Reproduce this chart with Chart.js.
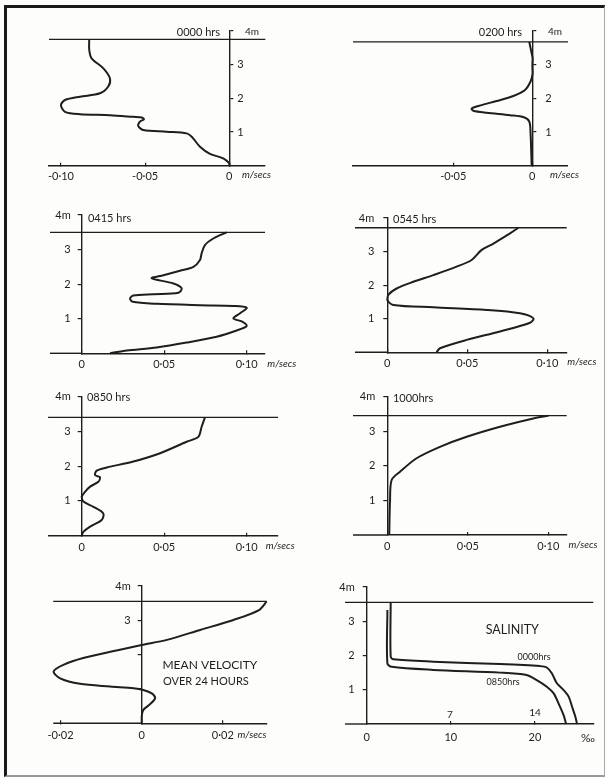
<!DOCTYPE html>
<html><head><meta charset="utf-8">
<script src="https://cdn.jsdelivr.net/npm/chart.js@4.4.1/dist/chart.umd.min.js"></script>
<style>
html,body{margin:0;padding:0;}
body{width:607px;height:778px;position:relative;overflow:hidden;background:#fdfdfb;}
#frame{position:absolute;left:4px;top:5px;width:597px;height:767px;border-left:3px solid #1a1a1a;border-top:3px solid #1a1a1a;border-right:1px solid #aaa;border-bottom:2px solid #999;}
canvas{position:absolute;}
</style></head><body>
<div id="frame"></div>
<canvas id="p0"></canvas><canvas id="p1"></canvas><canvas id="p2"></canvas><canvas id="p3"></canvas>
<canvas id="p4"></canvas><canvas id="p5"></canvas><canvas id="p6"></canvas><canvas id="p7"></canvas>
<script>
// ---------- DATA (height above bed in m, velocity in m/s, salinity in ‰) ----------
const h0000 = [3.75,3.44,3.19,2.89,2.59,2.35,2.15,2.05,1.95,1.80,1.60,1.53,1.50,1.45,1.43,1.38,1.31,1.18,1.06,1.01,0.96,0.86,0.56,0.35,0.22,0.07,0];
const v0000 = [-0.0832,-0.0832,-0.0818,-0.0748,-0.0709,-0.0719,-0.0768,-0.0887,-0.0976,-0.1,-0.0976,-0.0887,-0.0709,-0.057,-0.052,-0.0507,-0.0531,-0.0541,-0.0511,-0.0372,-0.0253,-0.0223,-0.0174,-0.0115,-0.0036,0,0];

const h0200 = [3.68,3.49,3.19,2.74,2.50,2.25,2.07,1.92,1.80,1.70,1.63,1.57,1.50,1.44,1.31,0.96,0];
const v0200 = [-0.0019,-0.0011,0.0002,0.0002,-0.0011,-0.0046,-0.012,-0.0226,-0.0321,-0.0384,-0.0373,-0.0289,-0.0141,-0.0053,-0.0019,-0.0011,-0.0004];

const h0415 = [3.50,3.32,3.13,2.89,2.70,2.50,2.39,2.26,2.17,2.02,1.88,1.75,1.71,1.67,1.59,1.49,1.43,1.39,1.37,1.32,1.16,1.01,0.92,0.79,0.66,0.48,0.31,0.17,0.08,0.02,0];
const v0415 = [0.0879,0.0798,0.0747,0.0727,0.0717,0.0677,0.0596,0.0495,0.0424,0.0556,0.0606,0.0586,0.0434,0.0313,0.0293,0.0309,0.0455,0.0717,0.0919,0.1,0.096,0.0919,0.097,0.1,0.0939,0.0818,0.0636,0.0455,0.0273,0.0192,0.0172];

const h0545 = [3.71,3.54,3.24,3.05,2.75,2.55,2.30,2.10,1.90,1.71,1.56,1.41,1.34,1.26,1.16,1.01,0.88,0.62,0.37,0.12,0];
const v0545 = [0.0819,0.0767,0.0663,0.059,0.0527,0.0433,0.0288,0.0163,0.0058,0.0006,0,0.0038,0.0288,0.0621,0.0829,0.0913,0.0892,0.0704,0.0496,0.0329,0.0308];

const h0850 = [3.40,3.13,2.84,2.70,2.37,2.13,1.96,1.87,1.74,1.68,1.55,1.41,1.26,1.12,0.98,0.83,0.64,0.45,0.26,0.11,0];
const v0850 = [0.0747,0.0727,0.0707,0.0636,0.0475,0.0313,0.0152,0.0091,0.0081,0.0111,0.0101,0.0051,0.002,0,0.001,0.0071,0.0131,0.0121,0.0051,0.001,0];

const h1000 = [3.45,3.37,3.13,2.84,2.55,2.22,1.83,1.59,1.01,0];
const v1000 = [0.1,0.0907,0.07,0.0493,0.0327,0.0182,0.0079,0.0027,0.0017,0.0012];

const hMean = [3.55,3.30,3.01,2.72,2.43,2.28,2.12,1.90,1.70,1.51,1.31,1.15,1.07,1.02,0.97,0.87,0.73,0.56,0.39,0.19,0];
const vMean = [0.0308,0.0289,0.0226,0.0144,0.0062,0,-0.0062,-0.0144,-0.0193,-0.0217,-0.0201,-0.0152,-0.0078,-0.002,0.0004,0.0025,0.0033,0.0021,0.0004,0,0];

const hSal0000 = [3.55,1.97,1.89,1.82,1.75,1.69,1.65,1.48,1.19,0.99,0.80,0.51,0.21,0];
const sSal0000 = [2.85,2.85,3.17,7.92,15.85,20.6,21.4,22.0,22.6,23.4,24.0,24.4,24.8,25.0];
const hSal0850 = [3.33,1.77,1.67,1.58,1.50,1.43,1.28,1.09,0.90,0.60,0.26,0];
const sSal0850 = [2.46,2.46,2.97,7.92,15.85,19.0,20.2,21.4,22.2,22.8,23.4,23.7];

// water-surface level drawn in each panel (m)
const surfaceLevels = [3.75,3.68,3.50,3.71,3.40,3.45,3.55,3.55];

// tick values and labels
const depthTicks = [1,2,3,4];
const depthLabels = ['1','2','3','4m'];
const depthLabelsTopRight = ['1','2','3',''];
const depthLabelsMean = ['','','3','4m'];
const velTicks0000 = [-0.10,-0.05,0];
const velLabels0000 = ['-0·10','-0·05','0'];
const velTicks0200 = [-0.05,0];
const velLabels0200 = ['-0·05','0'];
const velTicksPos = [0,0.05,0.10];
const velLabelsPos = ['0','0·05','0·10'];
const meanTicks = [-0.02,0,0.02];
const meanLabels = ['-0·02','0','0·02'];
const salTicks = [0,10,20];
const salLabels = ['0','10','20'];

// ---------- LAYOUT ----------
const INK = '#1e1e1e';
const FONT = 'Lato, "Open Sans", sans-serif';
const YW = 30;   // width given to the depth axis
const XH = 22;   // height given to the horizontal axis
const pts = (xs, ys) => xs.map((v, i) => ({x: v, y: ys[i]}));

const notesPlugin = {
  id: 'notes',
  afterDraw(chart, args, opts) {
    const {ctx} = chart, sx = chart.scales.x, sy = chart.scales.y;
    (opts.items || []).forEach(n => {
      ctx.save();
      ctx.font = (n.style || '') + ' ' + (n.size || 11) + 'px ' + FONT;
      ctx.fillStyle = INK;
      ctx.textAlign = n.align || 'left';
      ctx.textBaseline = 'middle';
      ctx.fillText(n.text, sx.getPixelForValue(n.x), sy.getPixelForValue(n.y));
      ctx.restore();
    });
  }
};

// box: canvas [left, top, width, height]; area: [left edge, top (4 m), right edge, bottom (0 m)]; axisPx: pixel of the depth axis
const panels = [
  {box:[8,8,302,188], area:[49,31,265,165.7], axisPx:229.3, side:'right', xr:[-0.1071,0.0214], curves:[[v0000,h0000]],
   xt:velTicks0000, xl:velLabels0000, yl:depthLabelsTopRight, ypad:4, xpad:7,
   notes:[{text:'0000 hrs',x:-0.0055,y:3.97,align:'right'},{text:'4m',x:0.0093,y:3.99,size:10},{text:'m/secs',x:0.0075,y:-0.28,size:10,style:'italic'}]},
  {box:[300,8,305,188], area:[353,31,568,165.7], axisPx:532.3, side:'right', xr:[-0.1135,0.0226], curves:[[v0200,h0200]],
   xt:velTicks0200, xl:velLabels0200, yl:depthLabelsTopRight, ypad:9, xpad:7,
   notes:[{text:'0200 hrs',x:-0.0065,y:3.97,align:'right'},{text:'4m',x:0.0099,y:3.99,size:10},{text:'m/secs',x:0.0112,y:-0.28,size:10,style:'italic'}]},
  {box:[8,196,302,184], area:[50,215,265,353.3], axisPx:81.7, side:'left', xr:[-0.0192,0.1111], curves:[[v0415,h0415]],
   xt:velTicksPos, xl:velLabelsPos, yl:depthLabels, ypad:7, xpad:8,
   notes:[{text:'0415 hrs',x:0.0038,y:3.91},{text:'m/secs',x:0.1125,y:-0.29,size:10,style:'italic'}]},
  {box:[300,196,305,184], area:[355,218,566.7,352.3], axisPx:387.3, side:'left', xr:[-0.0202,0.1121], curves:[[v0545,h0545]],
   xt:velTicksPos, xl:velLabelsPos, yl:depthLabels, ypad:9, xpad:8,
   notes:[{text:'0545 hrs',x:0.0036,y:3.97},{text:'m/secs',x:0.1125,y:-0.29,size:10,style:'italic'}]},
  {box:[8,380,302,180], area:[48,396.5,278,535.7], axisPx:81.7, side:'left', xr:[-0.0204,0.119], curves:[[v0850,h0850]],
   xt:velTicksPos, xl:velLabelsPos, yl:depthLabels, ypad:7, xpad:8,
   notes:[{text:'0850 hrs',x:0.0032,y:3.96},{text:'m/secs',x:0.1115,y:-0.29,size:10,style:'italic'}]},
  {box:[300,380,305,180], area:[353,396.7,566.7,535], axisPx:387.3, side:'left', xr:[-0.0213,0.1114], curves:[[v1000,h1000]],
   xt:velTicksPos, xl:velLabelsPos, yl:depthLabels, ypad:8, xpad:8,
   notes:[{text:'1000hrs',x:0.0035,y:3.96},{text:'m/secs',x:0.1125,y:-0.29,size:10,style:'italic'}]},
  {box:[8,562,302,210], area:[53,586,266.7,723.3], axisPx:141.7, side:'left', xr:[-0.0218,0.0308], curves:[[vMean,hMean]],
   xt:meanTicks, xl:meanLabels, yl:depthLabelsMean, ypad:7, xpad:9,
   notes:[{text:'MEAN VELOCITY',x:0.0168,y:1.70,align:'center',size:12},{text:'OVER 24 HOURS',x:0.0158,y:1.22,align:'center',size:11},{text:'m/secs',x:0.0236,y:-0.34,size:10,style:'italic'}]},
  {box:[300,562,305,210], area:[345,587,593.3,724], axisPx:366.7, side:'left', xr:[-2.58,26.93], curves:[[sSal0000,hSal0000],[sSal0850,hSal0850]],
   xt:salTicks, xl:salLabels, yl:depthLabels, ypad:8, xpad:10,
   notes:[{text:'SALINITY',x:17.3,y:2.74,align:'center',size:12.5},{text:'0000hrs',x:19.9,y:1.95,align:'center',size:9},{text:'0850hrs',x:16.2,y:1.22,align:'center',size:9},
          {text:'7',x:9.9,y:0.27,align:'center',size:10},{text:'14',x:20.0,y:0.32,align:'center',size:10},{text:'‰',x:26.3,y:-0.42,align:'center',size:12}]}
];

panels.forEach((p, i) => {
  const cv = document.getElementById('p' + i);
  const [bx, by, bw, bh] = p.box;
  const [L, T, R, B] = p.area;
  cv.width = bw; cv.height = bh;
  cv.style.left = bx + 'px'; cv.style.top = by + 'px';
  const left = p.side === 'left';
  // chart area runs from the depth axis to the far edge; the rest is drawn unclipped through the same scale
  const pad = left
    ? {left: p.axisPx - bx - YW, right: bx + bw - R, top: T - by, bottom: by + bh - B - XH}
    : {left: L - bx, right: bx + bw - p.axisPx - YW, top: T - by, bottom: by + bh - B - XH};
  const xmin = left ? 0 : p.xr[0];
  const xmax = left ? p.xr[1] : 0;
  const datasets = p.curves.map(c => ({
    data: pts(c[0], c[1]), showLine: true, borderColor: INK, borderWidth: 2,
    pointRadius: 0, tension: 0.3, fill: false, clip: false
  }));
  datasets.push({
    data: [{x: p.xr[0], y: surfaceLevels[i]}, {x: p.xr[1], y: surfaceLevels[i]}],
    showLine: true, borderColor: INK, borderWidth: 1.3, pointRadius: 0, tension: 0, clip: false
  });
  // continuation of the bed line beyond the depth axis
  datasets.push({
    data: left ? [{x: p.xr[0], y: 0}, {x: 0, y: 0}] : [{x: 0, y: 0}, {x: p.xr[1], y: 0}],
    showLine: true, borderColor: INK, borderWidth: 1.4, pointRadius: 0, tension: 0, clip: false
  });
  new Chart(cv.getContext('2d'), {
    type: 'scatter',
    data: {datasets},
    options: {
      responsive: false, animation: false, events: [],
      layout: {padding: pad},
      plugins: {legend: {display: false}, tooltip: {enabled: false}, notes: {items: p.notes}},
      scales: {
        x: {
          type: 'linear', position: 'bottom', min: xmin, max: xmax, bounds: 'data',
          afterFit: s => { s.height = XH; },
          afterBuildTicks: s => { s.ticks = p.xt.map(v => ({value: v})); },
          ticks: {autoSkip: false, maxRotation: 0, padding: p.xpad, color: INK, font: {family: FONT, size: 11},
                  callback: (v, idx) => p.xl[idx]},
          grid: {display: true, drawOnChartArea: false, drawTicks: true, tickLength: -3, color: INK, lineWidth: 1.2},
          border: {display: true, color: INK, width: 1.4}
        },
        y: {
          type: 'linear', position: p.side, min: 0, max: 4, bounds: 'data',
          afterFit: s => { s.width = YW; },
          afterBuildTicks: s => { s.ticks = depthTicks.map(v => ({value: v})); },
          ticks: {autoSkip: false, padding: p.ypad, color: INK, font: {family: FONT, size: 11},
                  callback: (v, idx) => p.yl[idx]},
          grid: {display: true, drawOnChartArea: false, drawTicks: true, tickLength: 4, color: INK, lineWidth: 1.2},
          border: {display: true, color: INK, width: 1.4}
        }
      }
    },
    plugins: [notesPlugin]
  });
});
</script>
</body></html>
